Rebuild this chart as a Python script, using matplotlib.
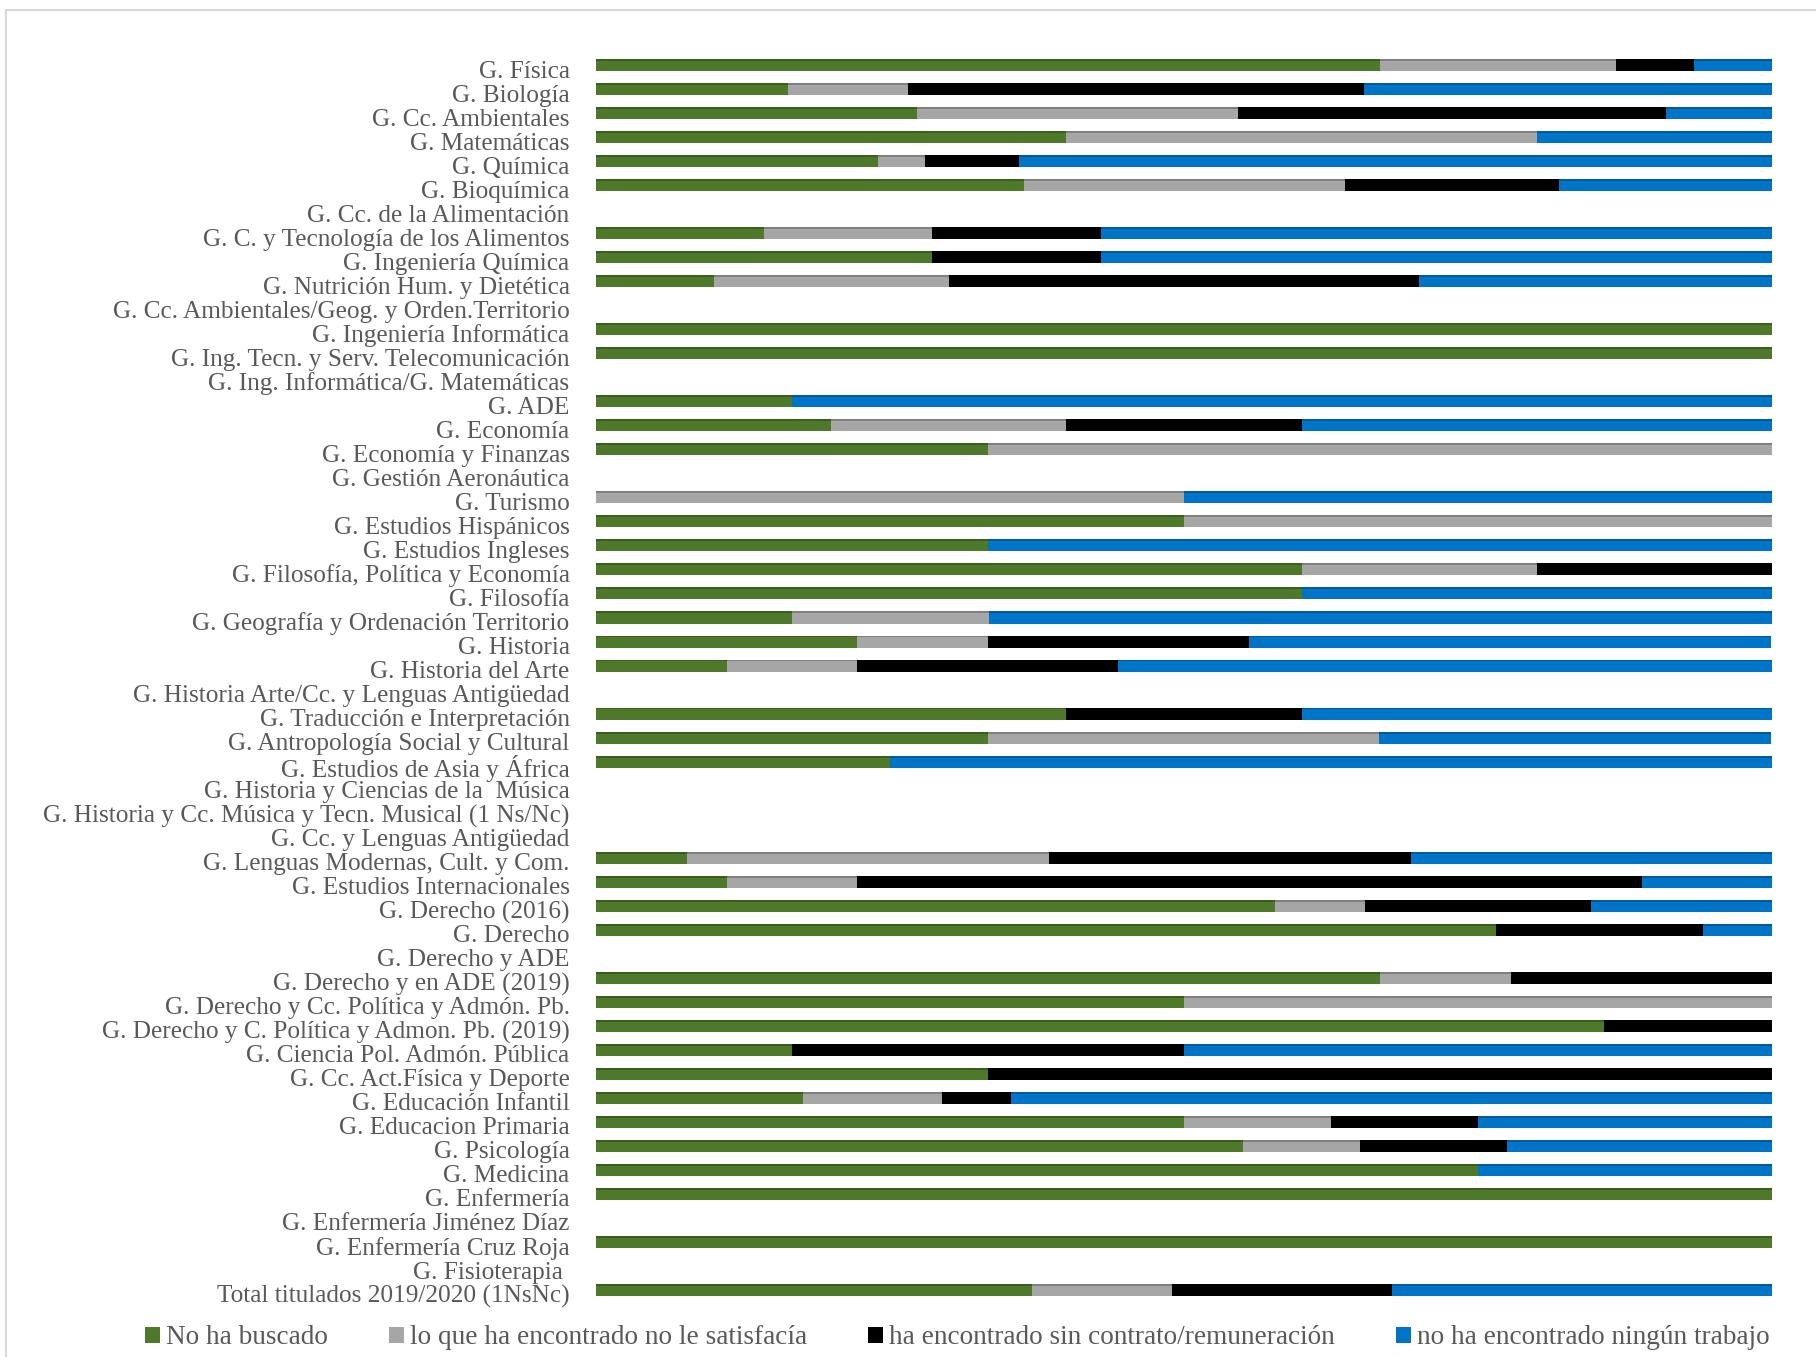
import numpy as np
import matplotlib
matplotlib.use('Agg')
import matplotlib.pyplot as plt
import matplotlib.transforms as mtransforms
from matplotlib.patches import Patch
from matplotlib.lines import Line2D

titulaciones = [
    'G. Física', 'G. Biología', 'G. Cc. Ambientales', 'G. Matemáticas',
    'G. Química', 'G. Bioquímica', 'G. Cc. de la Alimentación',
    'G. C. y Tecnología de los Alimentos', 'G. Ingeniería Química',
    'G. Nutrición Hum. y Dietética',
    'G. Cc. Ambientales/Geog. y Orden.Territorio',
    'G. Ingeniería Informática', 'G. Ing. Tecn. y Serv. Telecomunicación',
    'G. Ing. Informática/G. Matemáticas', 'G. ADE', 'G. Economía',
    'G. Economía y Finanzas', 'G. Gestión Aeronáutica', 'G. Turismo',
    'G. Estudios Hispánicos', 'G. Estudios Ingleses',
    'G. Filosofía, Política y Economía', 'G. Filosofía',
    'G. Geografía y Ordenación Territorio', 'G. Historia',
    'G. Historia del Arte', 'G. Historia Arte/Cc. y Lenguas Antigüedad',
    'G. Traducción e Interpretación', 'G. Antropología Social y Cultural',
    'G. Estudios de Asia y África', 'G. Historia y Ciencias de la  Música',
    'G. Historia y Cc. Música y Tecn. Musical (1 Ns/Nc)',
    'G. Cc. y Lenguas Antigüedad', 'G. Lenguas Modernas, Cult. y Com.',
    'G. Estudios Internacionales', 'G. Derecho (2016)', 'G. Derecho',
    'G. Derecho y ADE', 'G. Derecho y en ADE (2019)',
    'G. Derecho y Cc. Política y Admón. Pb.',
    'G. Derecho y C. Política y Admon. Pb. (2019)',
    'G. Ciencia Pol. Admón. Pública', 'G. Cc. Act.Física y Deporte',
    'G. Educación Infantil', 'G. Educacion Primaria', 'G. Psicología',
    'G. Medicina', 'G. Enfermería', 'G. Enfermería Jiménez Díaz',
    'G. Enfermería Cruz Roja', 'G. Fisioterapia ',
    'Total titulados 2019/2020 (1NsNc)',
]

# porcentajes por titulacion (%)
no_ha_buscado = [66.7, 16.3, 27.3, 40, 24, 36.4, 0, 14.3, 28.6, 10,
                 0, 100, 100, 0, 16.7, 20, 33.3, 0, 0, 50,
                 33.3, 60, 60, 16.7, 22.2, 11.1, 0, 40, 33.3, 25,
                 0, 0, 0, 7.7, 11.1, 57.7, 76.5, 0, 66.7, 50,
                 85.7, 16.7, 33.3, 17.6, 50, 55, 75, 100, 0, 100,
                 0, 37.1]
no_satisface = [20, 10.2, 27.3, 40, 4, 27.3, 0, 14.3, 0, 20,
                0, 0, 0, 0, 0, 20, 66.7, 0, 50, 50,
                0, 20, 0, 16.7, 11.1, 11.1, 0, 0, 33.3, 0,
                0, 0, 0, 30.8, 11.1, 7.7, 0, 0, 11.1, 50,
                0, 0, 0, 11.8, 12.5, 10, 0, 0, 0, 0,
                0, 11.9]
sin_contrato = [6.7, 38.8, 36.4, 0, 8, 18.2, 0, 14.3, 14.3, 40,
                0, 0, 0, 0, 0, 20, 0, 0, 0, 0,
                0, 20, 0, 0, 22.2, 22.2, 0, 20, 0, 0,
                0, 0, 0, 30.8, 66.7, 19.2, 17.6, 0, 22.2, 0,
                14.3, 33.3, 66.7, 5.9, 12.5, 12.5, 0, 0, 0, 0,
                0, 18.7]
ningun_trabajo = [6.7, 34.7, 9.1, 20, 64, 18.2, 0, 57.1, 57.1, 30,
                  0, 0, 0, 0, 83.3, 40, 0, 0, 50, 0,
                  66.7, 0, 40, 66.7, 44.4, 55.6, 0, 40, 33.3, 75,
                  0, 0, 0, 30.8, 11.1, 15.4, 5.9, 0, 0, 0,
                  0, 50, 0, 64.7, 25, 22.5, 25, 0, 0, 0,
                  0, 32.3]

series = [
    ('No ha buscado', no_ha_buscado, '#4E792B', '#3B5E1F'),
    ('lo que ha encontrado no le satisfacía', no_satisface, '#A6A6A6', '#7F7F7F'),
    ('ha encontrado sin contrato/remuneración', sin_contrato, '#000000', '#000000'),
    ('no ha encontrado ningún trabajo', ningun_trabajo, '#0074C6', '#005A9C'),
]

plt.rcParams['font.family'] = ['Liberation Serif', 'DejaVu Serif']

fig = plt.figure(figsize=(18.16, 13.57), dpi=100)
ax = fig.add_axes([0.3282, 0.0405, 0.6476, 0.9204])

y = np.arange(len(titulaciones))
left = np.zeros(len(titulaciones))
for nombre, vals, color, borde in series:
    vals = np.array(vals, dtype=float)
    ax.barh(y, vals, left=left, height=0.5, color=color, label=nombre)
    # franja superior mas oscura (efecto relieve)
    ax.barh(y - 0.21, vals, left=left, height=0.08, color=borde)
    left += vals

ax.set_xlim(0, 100)
ax.set_ylim(len(titulaciones) - 0.5, -0.5)
ax.set_yticks(y)
ax.set_yticklabels(titulaciones, fontsize=18.2, color='#595959')
ax.tick_params(axis='y', length=0, pad=19)
ax.set_xticks([])
for s in ax.spines.values():
    s.set_visible(False)

# bajar un poco las etiquetas
bajar = mtransforms.ScaledTranslation(0, -0.04, fig.dpi_scale_trans)
for lab in ax.get_yticklabels():
    lab.set_transform(lab.get_transform() + bajar)

handles = [Patch(facecolor=c, edgecolor='none') for _, _, c, _ in series]
fig.legend(handles, [s[0] for s in series], loc='center',
           bbox_to_anchor=(0.527, 1 - 1338 / 1357), ncol=4, frameon=False,
           fontsize=19.6, labelcolor='#595959', handlelength=0.55,
           handleheight=0.55, handletextpad=0.22, columnspacing=2.25)

# marco del grafico
fig.add_artist(Line2D([6 / 1816, 6 / 1816], [0, 1 - 10 / 1357],
                      color='#D9D9D9', lw=1.5))
fig.add_artist(Line2D([6 / 1816, 1], [1 - 10 / 1357, 1 - 10 / 1357],
                      color='#D9D9D9', lw=1.5))

fig.savefig('out.png', dpi=100, facecolor='white')
